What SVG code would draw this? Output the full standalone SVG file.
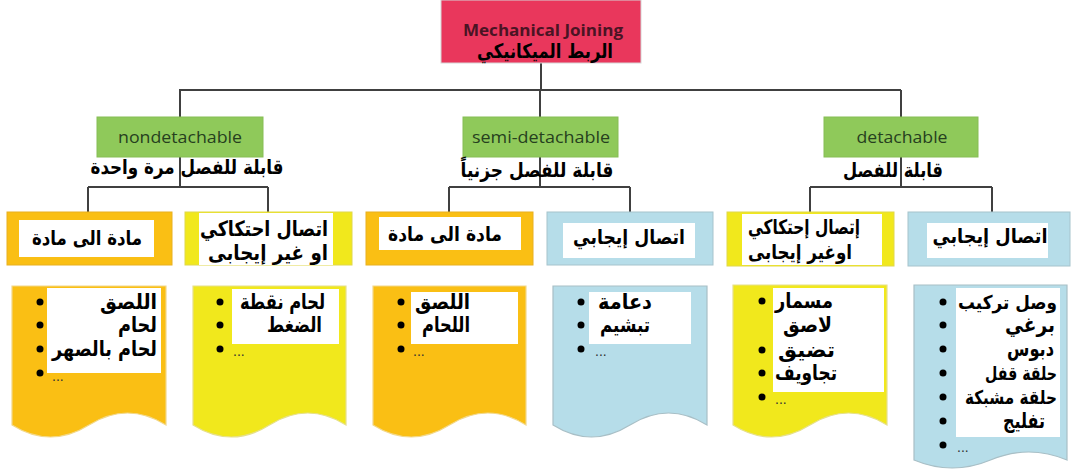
<svg xmlns="http://www.w3.org/2000/svg" width="1072" height="471" viewBox="0 0 1072 471">
<style>
.ln{stroke:#404040;stroke-width:2;fill:none}
.green{fill:#8FC95A;stroke:#86bd55;stroke-width:1}
.orange{fill:#FABF14;stroke:#e8b020;stroke-width:1}
.yellow{fill:#F1E81C;stroke:#e0d84a;stroke-width:1}
.blue{fill:#B6DDE9;stroke:#a6c3cc;stroke-width:1}
.doc-o{fill:#FABF14;stroke:#f2d88a;stroke-width:1.2}
.doc-y{fill:#F1E81C;stroke:#e6e08a;stroke-width:1.2}
.doc-b{fill:#B6DDE9;stroke:#a8bfc6;stroke-width:1.2}
.w{fill:#ffffff}
.en{font-family:"Open Sans","Liberation Sans",sans-serif;font-size:16px;fill:#26401e;text-anchor:middle}
.ar{font-family:"DejaVu Sans",sans-serif;font-weight:bold;font-size:20px;fill:#000}
.arl{font-family:"DejaVu Sans",sans-serif;font-weight:bold;font-size:21px;fill:#000;text-anchor:end}
.sm{font-size:19px}
.mid{text-anchor:middle}
.dots{font-family:"Liberation Sans",Arial,sans-serif;font-size:14px;fill:#333}
.bul{fill:#000}
</style>

<g id="connectors">
<path class="ln" d="M541 63V90M179 90H901M180 90V117M540 90V117M901 90V117"/>
<path class="ln" d="M180 157V187M88 187H268M88 187V212M268 187V212"/>
<path class="ln" d="M540 157V187M449 187H630M449 187V212M630 187V212"/>
<path class="ln" d="M901 157V187M810 187H992M810 187V212M992 187V212"/>
</g>

<g id="root">
<rect x="441" y="0" width="200" height="63" fill="#E9375C" stroke="#d6d6d6" stroke-width="1"/>
<text x="543" y="36" text-anchor="middle" font-family="'Open Sans','Liberation Sans',sans-serif" font-weight="bold" font-size="16" fill="#4a1424" textLength="160" lengthAdjust="spacingAndGlyphs">Mechanical Joining</text>
<text x="545" y="58" class="ar mid" font-size="17px" textLength="136" lengthAdjust="spacingAndGlyphs">الربط الميكانيكي</text>
</g>

<g id="nondetachable">
<rect class="green" x="97" y="117" width="166" height="40"/>
<text class="en" x="180" y="143" textLength="124" lengthAdjust="spacingAndGlyphs">nondetachable</text>
<text class="ar mid" x="187" y="174" textLength="193" lengthAdjust="spacingAndGlyphs">قابلة للفصل مرة واحدة</text>
</g>
<g id="semi-detachable">
<rect class="green" x="463" y="117" width="155" height="40"/>
<text class="en" x="541" y="143" textLength="138" lengthAdjust="spacingAndGlyphs">semi-detachable</text>
<text class="ar mid" x="537" y="177" textLength="153" lengthAdjust="spacingAndGlyphs">قابلة للفصل جزنياً</text>
</g>
<g id="detachable">
<rect class="green" x="824" y="117" width="154" height="40"/>
<text class="en" x="902" y="143" textLength="91" lengthAdjust="spacingAndGlyphs">detachable</text>
<text class="ar mid" x="893" y="177" textLength="100" lengthAdjust="spacingAndGlyphs">قابلة للفصل</text>
</g>

<g id="n1">
<rect class="orange" x="7" y="212" width="165" height="53"/>
<rect class="w" x="19" y="220" width="135" height="37"/>
<text class="ar mid" x="87" y="245" textLength="110" lengthAdjust="spacingAndGlyphs">مادة الى مادة</text>
</g>
<g id="n2">
<rect class="yellow" x="185" y="212" width="167" height="53"/>
<rect class="w" x="199" y="213" width="134" height="52"/>
<text class="arl" x="328" y="236" textLength="128" lengthAdjust="spacingAndGlyphs">اتصال احتكاكي</text>
<text class="arl" x="328" y="260" textLength="120" lengthAdjust="spacingAndGlyphs">او غير إيجابى</text>
</g>
<g id="n3">
<rect class="orange" x="366" y="212" width="167" height="53"/>
<rect class="w" x="379" y="217" width="142" height="33"/>
<text class="ar mid" x="445" y="241" textLength="114" lengthAdjust="spacingAndGlyphs">مادة الى مادة</text>
</g>
<g id="n4">
<rect class="blue" x="547" y="212" width="166" height="53"/>
<rect class="w" x="563" y="223" width="132" height="35"/>
<text class="ar mid" x="629" y="244" textLength="112" lengthAdjust="spacingAndGlyphs">اتصال إيجابي</text>
</g>
<g id="n5">
<rect class="yellow" x="727" y="212" width="167" height="54"/>
<rect class="w" x="742" y="214" width="140" height="51"/>
<text class="ar mid" x="804" y="234" font-size="16px" textLength="112" lengthAdjust="spacingAndGlyphs">إتصال إحتكاكي</text>
<text class="ar mid" x="800" y="259" font-size="16px" textLength="104" lengthAdjust="spacingAndGlyphs">اوغير إيجابى</text>
</g>
<g id="n6">
<rect class="blue" x="908" y="212" width="162" height="54"/>
<rect class="w" x="927" y="223" width="121" height="35"/>
<text class="ar mid" x="990" y="243" textLength="115" lengthAdjust="spacingAndGlyphs">اتصال إيجابي</text>
</g>

<g id="d1">
<path class="doc-o" d="M12 286H166V425Q127.5 401 89 425T12 425Z"/>
<rect class="w" x="47" y="288" width="114" height="85"/>
<circle class="bul" cx="40" cy="302" r="3.5"/><circle class="bul" cx="40" cy="325" r="3.5"/><circle class="bul" cx="40" cy="349" r="3.5"/><circle class="bul" cx="40" cy="373" r="3.5"/>
<text class="arl" x="157" y="309" textLength="57" lengthAdjust="spacingAndGlyphs">اللصق</text>
<text class="arl" x="157" y="332" textLength="39" lengthAdjust="spacingAndGlyphs">لحام</text>
<text class="arl" x="157" y="356" textLength="105" lengthAdjust="spacingAndGlyphs">لحام بالصهر</text>
<text class="dots" x="52" y="381">...</text>
</g>
<g id="d2">
<path class="doc-y" d="M193 286H346V425Q307.75 401 269.5 425T193 425Z"/>
<rect class="w" x="232" y="289" width="107" height="55"/>
<circle class="bul" cx="220" cy="302" r="3.5"/><circle class="bul" cx="220" cy="325" r="3.5"/><circle class="bul" cx="220" cy="349" r="3.5"/>
<text class="arl" x="325" y="309" textLength="85" lengthAdjust="spacingAndGlyphs">لحام نقطة</text>
<text class="arl" x="322" y="332" textLength="55" lengthAdjust="spacingAndGlyphs">الضغط</text>
<text class="dots" x="233" y="356">...</text>
</g>
<g id="d3">
<path class="doc-o" d="M373 286H526V425Q487.75 401 449.5 425T373 425Z"/>
<rect class="w" x="411" y="292" width="107" height="52"/>
<circle class="bul" cx="401" cy="302" r="3.5"/><circle class="bul" cx="401" cy="325" r="3.5"/><circle class="bul" cx="401" cy="349" r="3.5"/>
<text class="arl" x="470" y="309" textLength="55" lengthAdjust="spacingAndGlyphs">اللصق</text>
<text class="arl" x="470" y="332" textLength="48" lengthAdjust="spacingAndGlyphs">اللحام</text>
<text class="dots" x="413" y="356">...</text>
</g>
<g id="d4">
<path class="doc-b" d="M553 286H707V425Q668.5 401 630 425T553 425Z"/>
<rect class="w" x="589" y="292" width="102" height="52"/>
<circle class="bul" cx="581" cy="302" r="3.5"/><circle class="bul" cx="581" cy="325" r="3.5"/><circle class="bul" cx="581" cy="349" r="3.5"/>
<text class="arl" x="652" y="309" textLength="54" lengthAdjust="spacingAndGlyphs">دعامة</text>
<text class="arl" x="650" y="332" textLength="50" lengthAdjust="spacingAndGlyphs">تبشيم</text>
<text class="dots" x="595" y="356">...</text>
</g>
<g id="d5">
<path class="doc-y" d="M733 285H887V425Q848.5 401 810 425T733 425Z"/>
<rect class="w" x="773" y="288" width="111" height="104"/>
<circle class="bul" cx="762" cy="301" r="3.5"/><circle class="bul" cx="762" cy="350" r="3.5"/><circle class="bul" cx="762" cy="373" r="3.5"/><circle class="bul" cx="762" cy="397" r="3.5"/>
<text class="arl" x="833" y="308" textLength="58" lengthAdjust="spacingAndGlyphs">مسمار</text>
<text class="arl" x="832" y="332" textLength="49" lengthAdjust="spacingAndGlyphs">لاصق</text>
<text class="arl" x="835" y="357" textLength="57" lengthAdjust="spacingAndGlyphs">تضيق</text>
<text class="arl" x="837" y="380" textLength="62" lengthAdjust="spacingAndGlyphs">تجاويف</text>
<text class="dots" x="775" y="404">...</text>
</g>
<g id="d6">
<path class="doc-b" d="M914 285H1067V460Q1028.75 444 990.5 460T914 460Z"/>
<rect class="w" x="956" y="288" width="104" height="149"/>
<circle class="bul" cx="943" cy="302" r="3.5"/><circle class="bul" cx="943" cy="325" r="3.5"/><circle class="bul" cx="943" cy="349" r="3.5"/><circle class="bul" cx="943" cy="373" r="3.5"/><circle class="bul" cx="943" cy="397" r="3.5"/><circle class="bul" cx="943" cy="421" r="3.5"/><circle class="bul" cx="943" cy="445" r="3.5"/>
<text class="arl sm" x="1057" y="309" textLength="99" lengthAdjust="spacingAndGlyphs">وصل تركيب</text>
<text class="arl" x="1055" y="332" textLength="50" lengthAdjust="spacingAndGlyphs">برغي</text>
<text class="arl" x="1054" y="356" textLength="47" lengthAdjust="spacingAndGlyphs">دبوس</text>
<text class="arl sm" x="1057" y="380" textLength="72" lengthAdjust="spacingAndGlyphs">حلقة قفل</text>
<text class="arl sm" x="1057" y="404" textLength="92" lengthAdjust="spacingAndGlyphs">حلقة مشبكة</text>
<text class="arl" x="1045" y="428" textLength="42" lengthAdjust="spacingAndGlyphs">تفليج</text>
<text class="dots" x="957" y="452">...</text>
</g>
</svg>
